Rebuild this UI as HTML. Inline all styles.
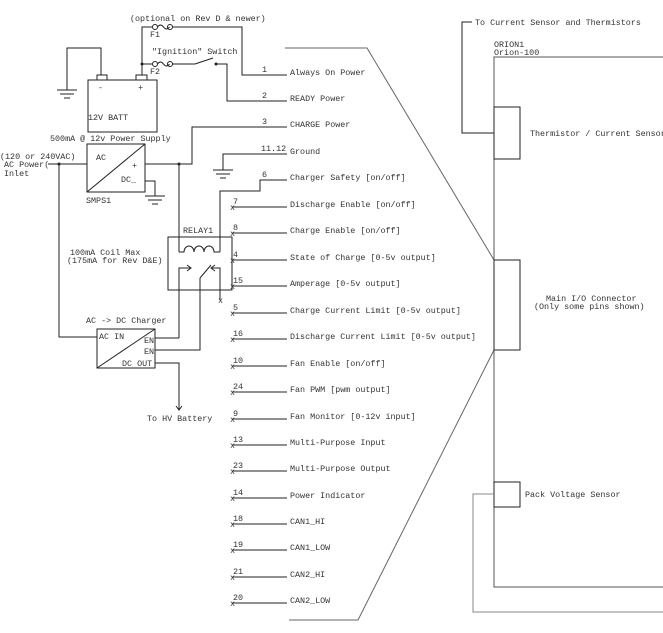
<!DOCTYPE html>
<html><head><meta charset="utf-8"><style>
html,body{margin:0;padding:0;background:#fff;}
svg{display:block;}
text{font-family:"Liberation Mono",monospace;font-size:8.4px;fill:#333;}
</style></head><body>
<svg width="663" height="633" viewBox="0 0 663 633" xmlns="http://www.w3.org/2000/svg">
<g fill="none" stroke="#222" stroke-width="1">
<rect x="88" y="80" width="69" height="52"/>
<rect x="97" y="75" width="10" height="5"/>
<rect x="136" y="75" width="11" height="5"/>
<polyline points="101,75 101,48 67,48 67,90"/>
<line x1="57" y1="90" x2="77" y2="90"/><line x1="60" y1="94" x2="74" y2="94"/><line x1="64" y1="98" x2="70" y2="98"/>
<polyline points="142,75 142,27 152,27"/>
<line x1="142" y1="64" x2="152" y2="64"/>
<circle cx="155" cy="27" r="2.5"/><circle cx="170" cy="27" r="2.5"/>
<path d="M157.5,27 q3,-4 6,0 q3,4 6,0"/>
<polyline points="172,27 242,27 242,75 287,75"/>
<circle cx="155" cy="64" r="2.5"/><circle cx="170" cy="64" r="2.5"/>
<path d="M157.5,64 q3,-4 6,0 q3,4 6,0"/>
<line x1="172" y1="64" x2="195" y2="64"/>
<line x1="195" y1="64" x2="213" y2="58"/>
<polyline points="216,64 227,64 227,101 287,101"/>
<rect x="87" y="144" width="58" height="48"/>
<line x1="87" y1="192" x2="145" y2="144"/>
<line x1="48" y1="164" x2="87" y2="164"/>
<polyline points="145,164 192,164 192,127 287,127"/>
<polyline points="145,181 155,181 155,196"/>
<line x1="145" y1="196" x2="165" y2="196"/><line x1="148" y1="200" x2="162" y2="200"/><line x1="152" y1="204" x2="158" y2="204"/>
<polyline points="59,164 59,337 97,337"/>
<polyline points="287,154 223,154 223,170"/>
<line x1="213" y1="170" x2="233" y2="170"/><line x1="216" y1="174" x2="230" y2="174"/><line x1="220" y1="178" x2="226" y2="178"/>
<polyline points="287,180 260,180 260,191 220,191 220,252"/>
<polyline points="179,164 179,252"/>
<rect x="168" y="237" width="64" height="53"/>
<path d="M179,252 L184,252 a5,6 0 1 1 10,0 a5,6 0 1 1 10,0 a5,6 0 1 1 10,0 L220,252"/>
<polyline points="179,338 179,268 191,268"/>
<polyline points="187,265 191,268 187,271"/>
<polyline points="220,300 220,268 211,268"/>
<polyline points="215,265 211,268 215,271"/>
<line x1="200" y1="278" x2="211" y2="265"/>
<polyline points="200,278 200,350 155,350"/>
<line x1="155" y1="338" x2="179" y2="338"/>
<rect x="97" y="329" width="58" height="39"/>
<line x1="97" y1="368" x2="155" y2="329"/>
<polyline points="155,363 179,363 179,410"/>
<polyline points="176,406 179,410 182,406"/>
<polyline stroke="#666" points="285,48 367,48 494,260"/>
<polyline stroke="#666" points="494,350 358,620 289,620"/>
<polyline points="663,57 494,57 494,587 663,587" stroke="#555"/>
<rect x="494" y="260" width="26" height="90"/>
<rect x="494" y="107" width="26" height="52"/>
<rect x="494" y="482" width="26" height="25"/>
<polyline points="472,22 462,22 462,133 494,133"/>
<polyline stroke="#888" points="494,494 473,494 473,612 663,612"/>
</g>
<g fill="#222">
<circle cx="142" cy="64" r="1.5"/><circle cx="59" cy="164" r="1.5"/><circle cx="179" cy="164" r="1.5"/><circle cx="216" cy="64" r="1.5"/>
</g>
<g stroke="#222" fill="none">
<line x1="262" y1="75" x2="287" y2="75"/>
<line x1="262" y1="101" x2="287" y2="101"/>
<line x1="262" y1="127" x2="287" y2="127"/>
<line x1="232" y1="207" x2="287" y2="207"/>
<line x1="232" y1="233" x2="287" y2="233"/>
<line x1="232" y1="260" x2="287" y2="260"/>
<line x1="232" y1="286" x2="287" y2="286"/>
<line x1="232" y1="313" x2="287" y2="313"/>
<line x1="232" y1="339" x2="287" y2="339"/>
<line x1="232" y1="366" x2="287" y2="366"/>
<line x1="232" y1="392" x2="287" y2="392"/>
<line x1="232" y1="419" x2="287" y2="419"/>
<line x1="232" y1="445" x2="287" y2="445"/>
<line x1="232" y1="471" x2="287" y2="471"/>
<line x1="232" y1="498" x2="287" y2="498"/>
<line x1="232" y1="524" x2="287" y2="524"/>
<line x1="232" y1="550" x2="287" y2="550"/>
<line x1="232" y1="577" x2="287" y2="577"/>
<line x1="232" y1="603" x2="287" y2="603"/>
</g>
<g font-size="7" fill="#222">
<text x="230" y="210">x</text><text x="230" y="236">x</text><text x="230" y="263">x</text><text x="230" y="289">x</text><text x="230" y="316">x</text><text x="230" y="342">x</text><text x="230" y="369">x</text><text x="230" y="395">x</text><text x="230" y="422">x</text><text x="230" y="448">x</text><text x="230" y="474">x</text><text x="230" y="501">x</text><text x="230" y="527">x</text><text x="230" y="553">x</text><text x="230" y="580">x</text><text x="230" y="606">x</text><text x="218" y="303">x</text>
</g>
<g>
<text x="262" y="72">1</text><text x="262" y="98">2</text><text x="262" y="124">3</text><text x="261" y="151">11.12</text><text x="262" y="177">6</text>
<text x="233" y="204">7</text><text x="233" y="230">8</text><text x="233" y="257">4</text><text x="233" y="283">15</text><text x="233" y="310">5</text><text x="233" y="336">16</text><text x="233" y="363">10</text><text x="233" y="389">24</text><text x="233" y="416">9</text><text x="233" y="442">13</text><text x="233" y="468">23</text><text x="233" y="495">14</text><text x="233" y="521">18</text><text x="233" y="547">19</text><text x="233" y="574">21</text><text x="233" y="600">20</text>
<text x="290" y="75">Always On Power</text>
<text x="290" y="101">READY Power</text>
<text x="290" y="127">CHARGE Power</text>
<text x="290" y="154">Ground</text>
<text x="290" y="180">Charger Safety [on/off]</text>
<text x="290" y="207">Discharge Enable [on/off]</text>
<text x="290" y="233">Charge Enable [on/off]</text>
<text x="290" y="260">State of Charge [0-5v output]</text>
<text x="290" y="286">Amperage [0-5v output]</text>
<text x="290" y="313">Charge Current Limit [0-5v output]</text>
<text x="290" y="339">Discharge Current Limit [0-5v output]</text>
<text x="290" y="366">Fan Enable [on/off]</text>
<text x="290" y="392">Fan PWM [pwm output]</text>
<text x="290" y="419">Fan Monitor [0-12v input]</text>
<text x="290" y="445">Multi-Purpose Input</text>
<text x="290" y="471">Multi-Purpose Output</text>
<text x="290" y="498">Power Indicator</text>
<text x="290" y="524">CAN1_HI</text>
<text x="290" y="550">CAN1_LOW</text>
<text x="290" y="577">CAN2_HI</text>
<text x="290" y="603">CAN2_LOW</text>
<text x="130" y="21">(optional on Rev D &amp; newer)</text>
<text x="150" y="37">F1</text>
<text x="152" y="54">"Ignition" Switch</text>
<text x="150" y="74">F2</text>
<text x="98" y="90">-</text><text x="138" y="90">+</text>
<text x="88" y="120">12V BATT</text>
<text x="50" y="141">500mA @ 12v Power Supply</text>
<text x="0" y="159">(120 or 240VAC)</text>
<text x="4" y="167">AC Power(</text>
<text x="4" y="176">Inlet</text>
<text x="96" y="160">AC</text>
<text x="132" y="168">+</text>
<text x="121" y="182">DC_</text>
<text x="86" y="203">SMPS1</text>
<text x="183" y="233">RELAY1</text>
<text x="70" y="255">100mA Coil Max</text>
<text x="67" y="263">(175mA for Rev D&amp;E)</text>
<text x="86" y="323">AC -&gt; DC Charger</text>
<text x="99" y="339">AC IN</text>
<text x="144" y="343">EN</text>
<text x="144" y="354">EN</text>
<text x="122" y="366">DC OUT</text>
<text x="147" y="421">To HV Battery</text>
<text x="475" y="25">To Current Sensor and Thermistors</text>
<text x="494" y="47">ORION1</text>
<text x="494" y="55">Orion-100</text>
<text x="530" y="136">Thermistor / Current Sensor</text>
<text x="546" y="301">Main I/O Connector</text>
<text x="534" y="309">(Only some pins shown)</text>
<text x="525" y="497">Pack Voltage Sensor</text>
</g>
</svg>
</body></html>
